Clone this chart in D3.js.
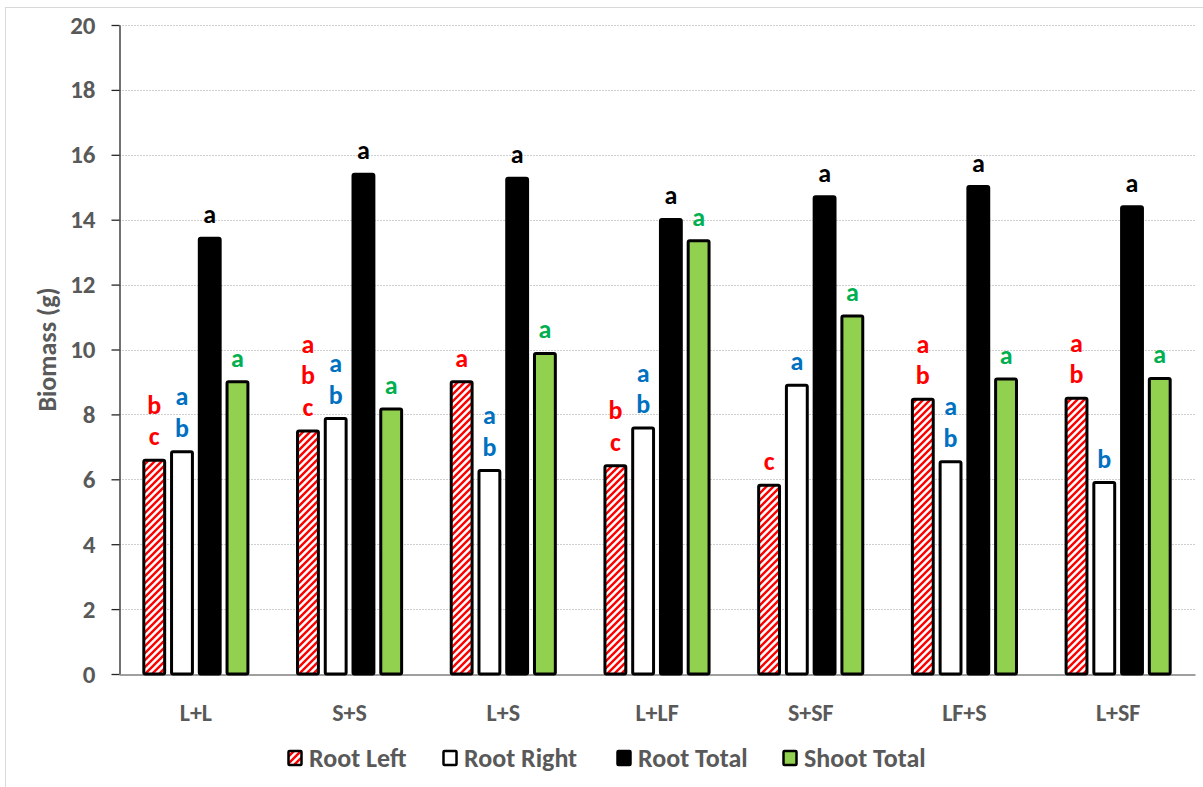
<!DOCTYPE html>
<html>
<head>
<meta charset="utf-8">
<script src="https://cdn.jsdelivr.net/npm/d3@7"></script>
<style>
  html, body { margin: 0; padding: 0; background: #ffffff; }
  svg { display: block; font-family: Carlito, Calibri, Lato, "Liberation Sans", sans-serif; }
</style>
</head>
<body>
<svg id="chart" width="1203" height="787"></svg>
<script>
// Biomass per treatment pair
const categories = ["L+L", "S+S", "L+S", "L+LF", "S+SF", "LF+S", "L+SF"];
const seriesNames = ["Root Left", "Root Right", "Root Total", "Shoot Total"];

const rootLeft   = [6.59, 7.49, 9.01, 6.42, 5.82, 8.47, 8.50];
const rootRight  = [6.85, 7.87, 6.27, 7.58, 8.90, 6.54, 5.90];
const rootTotal  = [13.43, 15.40, 15.28, 14.01, 14.71, 15.02, 14.40];
const shootTotal = [9.01, 8.17, 9.88, 13.35, 11.03, 9.09, 9.11];

// Significance letters, listed top to bottom above each bar
const lettersRootLeft   = ["bc", "abc", "a", "bc", "c", "ab", "ab"];
const lettersRootRight  = ["ab", "ab", "ab", "ab", "a", "ab", "b"];
const lettersRootTotal  = ["a", "a", "a", "a", "a", "a", "a"];
const lettersShootTotal = ["a", "a", "a", "a", "a", "a", "a"];

const yTicks = [0, 2, 4, 6, 8, 10, 12, 14, 16, 18, 20];

const seriesValues  = [rootLeft, rootRight, rootTotal, shootTotal];
const seriesLetters = [lettersRootLeft, lettersRootRight, lettersRootTotal, lettersShootTotal];
const seriesFill    = ["url(#hatch)", "#ffffff", "#000000", "#92d050"];
const letterColor   = ["#ff0000", "#0070c0", "#000000", "#00b050"];

const svg = d3.select("#chart");
const W = 1203, H = 787;
const plot = { left: 119, right: 1195, top: 25, bottom: 674 };
const textGray = "#595959";

// Outer chart frame
svg.append("rect")
  .attr("x", 5.5).attr("y", 7.5)
  .attr("width", W + 20).attr("height", H + 20)
  .attr("fill", "#ffffff").attr("stroke", "#d9d9d9").attr("stroke-width", 1);

// Red diagonal hatch for the left-root bars
const defs = svg.append("defs");
const hatch = defs.append("pattern")
  .attr("id", "hatch")
  .attr("patternUnits", "userSpaceOnUse")
  .attr("width", 7).attr("height", 7);
hatch.append("rect").attr("width", 7).attr("height", 7).attr("fill", "#ffffff");
hatch.append("path")
  .attr("d", "M-1,1 l2,-2 M0,7 l7,-7 M6,8 l2,-2")
  .attr("stroke", "#ff0000").attr("stroke-width", 2.4);

const y = d3.scaleLinear().domain([0, 20]).range([plot.bottom, plot.top]);
const x0 = d3.scaleBand().domain(categories).range([plot.left, plot.right]).padding(0);
const x1 = d3.scaleBand().domain(seriesNames).range([0, x0.bandwidth()])
  .paddingInner(0.14).paddingOuter(0.84);

// Horizontal gridlines
svg.append("g")
  .selectAll("line")
  .data(yTicks.filter(t => t > 0))
  .join("line")
  .attr("x1", plot.left).attr("x2", plot.right)
  .attr("y1", d => Math.round(y(d)) + 0.5).attr("y2", d => Math.round(y(d)) + 0.5)
  .attr("stroke", "#cfcfcf").attr("stroke-width", 1).attr("stroke-dasharray", "2,1");

// Y axis
const yAxis = svg.append("g")
  .attr("transform", `translate(${plot.left + 0.5},0)`)
  .call(d3.axisLeft(y).tickValues(yTicks).tickSize(8).tickPadding(16).tickSizeOuter(0));
yAxis.select(".domain").attr("stroke", "#262626").attr("stroke-width", 1.3);
yAxis.selectAll(".tick line").attr("stroke", "#262626").attr("stroke-width", 1.3);
yAxis.selectAll(".tick text")
  .attr("fill", textGray).attr("font-size", 25).attr("font-weight", "bold")
  .attr("font-family", "Carlito, Calibri, Lato, sans-serif");

// X axis (baseline and category labels)
const xAxis = svg.append("g")
  .attr("transform", `translate(0,${plot.bottom + 0.5})`)
  .call(d3.axisBottom(x0).tickSize(0).tickPadding(29));
xAxis.select(".domain").attr("stroke", "#7f7f7f").attr("stroke-width", 1.3);
xAxis.selectAll(".tick text")
  .attr("fill", textGray).attr("font-size", 24).attr("font-weight", "bold")
  .attr("font-family", "Carlito, Calibri, Lato, sans-serif");

// Bars
const rows = [];
categories.forEach((c, i) => {
  seriesNames.forEach((s, j) => {
    rows.push({ cat: c, series: s, j, value: seriesValues[j][i], letters: seriesLetters[j][i] });
  });
});

const barG = svg.append("g");
barG.selectAll("rect")
  .data(rows)
  .join("rect")
  .attr("x", d => x0(d.cat) + x1(d.series) + 1.5)
  .attr("y", d => y(d.value))
  .attr("width", x1.bandwidth() - 3)
  .attr("height", d => y(0) - y(d.value))
  .attr("rx", 1.5)
  .attr("fill", d => seriesFill[d.j])
  .attr("stroke", "#000000").attr("stroke-width", 3);

// Letters above bars
const letterG = svg.append("g")
  .attr("font-size", 26).attr("font-weight", "bold")
  .attr("text-anchor", "middle");
rows.forEach(d => {
  const chars = d.letters.split("");
  const cx = x0(d.cat) + x1(d.series) + x1.bandwidth() / 2;
  const base = y(d.value) - 15;
  chars.forEach((ch, k) => {
    const fromBottom = chars.length - 1 - k;
    letterG.append("text")
      .attr("x", cx)
      .attr("y", base - fromBottom * 31.5)
      .attr("fill", letterColor[d.j])
      .text(ch);
  });
});

// Y axis title
svg.append("text")
  .attr("transform", `translate(56,${(plot.top + plot.bottom) / 2}) rotate(-90)`)
  .attr("text-anchor", "middle")
  .attr("fill", textGray).attr("font-size", 26).attr("font-weight", "bold")
  .text("Biomass (g)");

// Legend
const legendX = [287, 442, 616, 782];
const legend = svg.append("g").attr("transform", "translate(0,758)");
seriesNames.forEach((s, j) => {
  const g = legend.append("g").attr("transform", `translate(${legendX[j]},0)`);
  g.append("rect")
    .attr("x", 1.5).attr("y", -7)
    .attr("width", 13).attr("height", 14)
    .attr("rx", 1)
    .attr("fill", seriesFill[j])
    .attr("stroke", "#000000").attr("stroke-width", 2.5);
  g.append("text")
    .attr("x", 22).attr("y", 0)
    .attr("dy", "0.35em")
    .attr("fill", textGray).attr("font-size", 26).attr("font-weight", "bold")
    .text(s);
});
</script>
</body>
</html>
